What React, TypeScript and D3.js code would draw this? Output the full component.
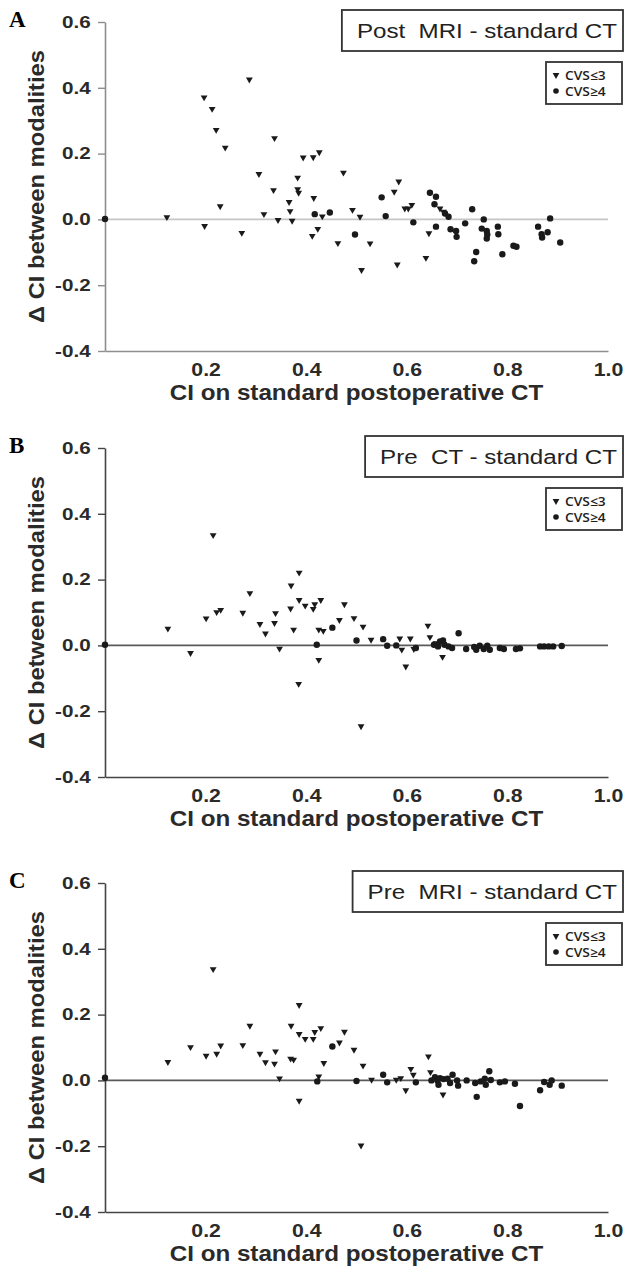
import React, { useEffect, useRef } from 'react'
import * as d3 from 'd3'

type Pt = [number, number]

// axis ticks and labels
const xTicks = [0.2, 0.4, 0.6, 0.8, 1.0]
const yTicks = [0.6, 0.4, 0.2, 0.0, -0.2, -0.4]
const legendLabels = ['CVS\u22643', 'CVS\u22654']
const panelLetters = ['A', 'B', 'C']
const panelTitles = ['Post  MRI - standard CT', 'Pre  CT - standard CT', 'Pre  MRI - standard CT']
const xTitle = 'CI on standard postoperative CT'
const yTitle = '\u0394 CI between modalities'

// A: post MRI - standard CT
const postMriLow: Pt[] = [
  [0.123, 0.007], [0.197, 0.371], [0.213, 0.336], [0.221, 0.272], [0.239, 0.218],
  [0.229, 0.040], [0.198, -0.020], [0.287, 0.425], [0.272, -0.041], [0.306, 0.138],
  [0.316, 0.016], [0.337, 0.247], [0.335, 0.089], [0.344, -0.002], [0.366, 0.053],
  [0.368, 0.025], [0.372, -0.004], [0.383, 0.127], [0.383, 0.092], [0.385, 0.081],
  [0.394, 0.188], [0.414, 0.189], [0.426, 0.204], [0.415, 0.065], [0.412, -0.050],
  [0.423, -0.029], [0.432, 0.009], [0.463, -0.072], [0.474, 0.142], [0.492, 0.029],
  [0.507, 0.008], [0.510, -0.154], [0.527, -0.073], [0.575, 0.084], [0.584, 0.115],
  [0.596, 0.033], [0.603, 0.033], [0.610, 0.044], [0.581, -0.137], [0.638, -0.117],
  [0.644, -0.042], [0.666, 0.033], [0.673, 0.023],
]
const postMriHigh: Pt[] = [
  [0.0, 0.001], [0.417, 0.016], [0.447, 0.021], [0.497, -0.046], [0.550, 0.067],
  [0.558, 0.010], [0.613, -0.009], [0.646, 0.081], [0.658, 0.069], [0.655, 0.046],
  [0.658, -0.022], [0.676, 0.018], [0.683, 0.008], [0.687, -0.030], [0.698, -0.035],
  [0.699, -0.053], [0.716, -0.012], [0.730, 0.031], [0.753, 0.000], [0.749, -0.028],
  [0.759, -0.035], [0.760, -0.046], [0.759, -0.058], [0.738, -0.099], [0.734, -0.127],
  [0.781, -0.022], [0.782, -0.045], [0.790, -0.106], [0.812, -0.080], [0.818, -0.083],
  [0.861, -0.022], [0.868, -0.045], [0.869, -0.055], [0.880, -0.039], [0.885, 0.003],
  [0.905, -0.070],
]

// B: pre CT - standard CT
const preCtLow: Pt[] = [
  [0.125, 0.051], [0.170, -0.023], [0.201, 0.082], [0.215, 0.335], [0.222, 0.101],
  [0.230, 0.108], [0.274, 0.099], [0.288, 0.159], [0.308, 0.065], [0.319, 0.036],
  [0.339, 0.098], [0.337, 0.068], [0.347, -0.010], [0.370, 0.182], [0.369, 0.112],
  [0.375, 0.048], [0.386, 0.221], [0.386, 0.138], [0.398, 0.121], [0.414, 0.111],
  [0.417, 0.125], [0.429, 0.138], [0.425, 0.048], [0.434, 0.044], [0.425, -0.044],
  [0.385, -0.117], [0.466, 0.077], [0.476, 0.125], [0.495, 0.083], [0.513, 0.057],
  [0.509, -0.246], [0.529, 0.017], [0.586, 0.021], [0.590, -0.013], [0.607, 0.021],
  [0.598, -0.064], [0.614, -0.011], [0.642, 0.060], [0.646, 0.025], [0.671, -0.035],
  [0.658, 0.007],
]
const preCtHigh: Pt[] = [
  [0.0, 0.002], [0.421, 0.002], [0.452, 0.054], [0.500, 0.015], [0.553, 0.019],
  [0.561, -0.001], [0.579, 0.000], [0.618, -0.008], [0.654, 0.002], [0.662, -0.003],
  [0.666, 0.012], [0.672, 0.015], [0.675, 0.002], [0.683, -0.003], [0.690, -0.008],
  [0.703, 0.037], [0.718, -0.011], [0.734, -0.005], [0.738, -0.013], [0.745, -0.001],
  [0.753, -0.011], [0.760, -0.001], [0.765, -0.013], [0.785, -0.008], [0.793, -0.011],
  [0.817, -0.011], [0.825, -0.009], [0.865, -0.003], [0.873, -0.003], [0.882, -0.003],
  [0.891, -0.003], [0.908, -0.002],
]

// C: pre MRI - standard CT
const preMriLow: Pt[] = [
  [0.125, 0.056], [0.170, 0.101], [0.201, 0.075], [0.215, 0.338], [0.222, 0.081],
  [0.230, 0.106], [0.274, 0.107], [0.288, 0.166], [0.308, 0.081], [0.319, 0.055],
  [0.339, 0.088], [0.337, 0.051], [0.347, 0.006], [0.370, 0.166], [0.369, 0.066],
  [0.375, 0.063], [0.386, 0.229], [0.386, 0.141], [0.398, 0.126], [0.414, 0.126],
  [0.417, 0.147], [0.429, 0.159], [0.435, 0.053], [0.425, 0.012], [0.386, -0.062],
  [0.466, 0.115], [0.476, 0.148], [0.495, 0.093], [0.513, 0.045], [0.509, -0.198],
  [0.530, 0.002], [0.579, 0.002], [0.588, 0.007], [0.598, -0.030], [0.608, 0.035],
  [0.613, 0.017], [0.643, 0.073], [0.647, 0.025], [0.672, -0.043],
]
const preMriHigh: Pt[] = [
  [0.0, 0.008], [0.422, -0.003], [0.452, 0.103], [0.500, -0.002], [0.553, 0.017],
  [0.561, -0.006], [0.618, -0.006], [0.649, 0.000], [0.656, 0.010], [0.661, 0.000],
  [0.663, -0.013], [0.666, 0.007], [0.673, 0.004], [0.681, 0.005], [0.686, -0.008],
  [0.691, 0.017], [0.700, 0.000], [0.702, -0.016], [0.719, 0.000], [0.736, -0.008],
  [0.739, -0.050], [0.747, -0.003], [0.755, 0.005], [0.757, -0.013], [0.764, 0.028],
  [0.767, 0.001], [0.785, -0.006], [0.795, -0.003], [0.815, -0.010], [0.825, -0.078],
  [0.865, -0.030], [0.873, -0.005], [0.884, -0.013], [0.888, 0.000], [0.908, -0.016],
]

const lowSets = [postMriLow, preCtLow, preMriLow]
const highSets = [postMriHigh, preCtHigh, preMriHigh]

const W = 627
const H = 1268
const plotLeft = 105
const plotRight = 608
const panelTops = [22, 448, 883]
const plotH = 329
const axisColors = ['#8e8e8e', '#444', '#444']
const zeroColors = ['#c6c6c6', '#5a5a5a', '#5a5a5a']
const sans = '"Liberation Sans", Arial, sans-serif'

export default function App() {
  const ref = useRef<SVGSVGElement>(null)

  useEffect(() => {
    const svg = d3.select(ref.current)
    svg.selectAll('*').remove()

    const x = d3.scaleLinear().domain([0, 1]).range([plotLeft, plotRight])
    const tri = d3.symbol().type(d3.symbolTriangle).size(20)
    const fmt = (d: number) => d.toFixed(1)

    panelTops.forEach((top, i) => {
      const y = d3.scaleLinear().domain([-0.4, 0.6]).range([top + plotH, top])
      const g = svg.append('g')
      const axisCol = axisColors[i]

      // panel letter
      g.append('text')
        .attr('x', 9).attr('y', top + 5)
        .attr('font-family', '"Liberation Serif", "Times New Roman", serif')
        .attr('font-weight', 'bold').attr('font-size', 23)
        .text(panelLetters[i])

      // zero reference line
      g.append('line')
        .attr('x1', x(0)).attr('x2', x(1))
        .attr('y1', y(0)).attr('y2', y(0))
        .attr('stroke', zeroColors[i]).attr('stroke-width', 1.6)

      // y axis
      const yAxisG = g.append('g')
        .attr('transform', `translate(${plotLeft},0)`)
        .call(d3.axisLeft(y).tickValues(yTicks).tickFormat(fmt as any)
          .tickSize(7).tickSizeOuter(0).tickPadding(7))
      yAxisG.select('.domain').attr('stroke', axisCol).attr('stroke-width', 1.6)
      yAxisG.selectAll('.tick line').attr('stroke', axisCol).attr('stroke-width', 1.4)
      yAxisG.selectAll('.tick text')
        .attr('fill', '#2a2a2a')
        .attr('font-family', sans).attr('font-weight', 'bold').attr('font-size', 16.5)
        .attr('transform', 'scale(1.25,1)')
        .attr('x', -11.5)

      // x axis
      const xAxisG = g.append('g')
        .attr('transform', `translate(0,${y(-0.4)})`)
        .call(d3.axisBottom(x).tickValues(xTicks).tickFormat(fmt as any)
          .tickSize(0).tickSizeOuter(0).tickPadding(12))
      xAxisG.select('.domain').attr('stroke', axisCol).attr('stroke-width', 1.6)
      xAxisG.selectAll('.tick text')
        .attr('fill', '#2a2a2a')
        .attr('font-family', sans).attr('font-weight', 'bold').attr('font-size', 19)
        .attr('transform', 'scale(1.12,1)')

      // axis titles
      g.append('text')
        .attr('transform', `translate(${(plotLeft + plotRight) / 2},${top + plotH + 49}) scale(1.1,1)`)
        .attr('text-anchor', 'middle')
        .attr('fill', '#2a2a2a')
        .attr('font-family', sans).attr('font-weight', 'bold').attr('font-size', 22)
        .text(xTitle)

      g.append('text')
        .attr('transform', `translate(44,${top + plotH / 2}) rotate(-90) scale(1.08,1)`)
        .attr('text-anchor', 'middle')
        .attr('fill', '#2a2a2a')
        .attr('font-family', sans).attr('font-weight', 'bold').attr('font-size', 22)
        .text(yTitle)

      // title box
      const titleRight = 617
      const boxTop = top - 12
      const tt = g.append('text')
        .attr('transform', `translate(${titleRight},${boxTop + 28}) scale(1.15,1)`)
        .attr('text-anchor', 'end')
        .attr('fill', '#222')
        .attr('font-family', sans).attr('font-size', 21)
        .style('white-space', 'pre')
        .text(panelTitles[i])
      const tw = (tt.node() as SVGTextElement).getComputedTextLength() * 1.15
      g.insert('rect', 'text')
        .attr('x', titleRight - tw - 15).attr('y', boxTop)
        .attr('width', tw + 21).attr('height', 41)
        .attr('fill', 'none').attr('stroke', '#333').attr('stroke-width', 1.8)

      // legend
      const lgTop = top + 40
      g.append('rect')
        .attr('x', 546).attr('y', lgTop).attr('width', 76).attr('height', 42)
        .attr('fill', 'none').attr('stroke', '#333').attr('stroke-width', 1.8)
      g.append('path')
        .attr('d', tri()!)
        .attr('transform', `translate(556,${lgTop + 13}) rotate(180)`)
        .attr('fill', '#1a1a1a')
      g.append('circle')
        .attr('cx', 556).attr('cy', lgTop + 29).attr('r', 2.8)
        .attr('fill', '#1a1a1a')
      legendLabels.forEach((lab, k) => {
        g.append('text')
          .attr('transform', `translate(565,${lgTop + 13 + k * 16}) scale(1.08,1)`)
          .attr('dy', '0.36em')
          .attr('fill', '#1e1e1e')
          .attr('font-family', '"Open Sans", Lato, sans-serif')
          .attr('font-weight', 600).attr('font-size', 12.8)
          .text(lab)
      })

      // points
      g.append('g').selectAll('path')
        .data(lowSets[i])
        .join('path')
        .attr('d', tri()!)
        .attr('transform', d => `translate(${x(d[0])},${y(d[1])}) rotate(180)`)
        .attr('fill', '#1a1a1a')

      g.append('g').selectAll('circle')
        .data(highSets[i])
        .join('circle')
        .attr('cx', d => x(d[0]))
        .attr('cy', d => y(d[1]))
        .attr('r', 3.2)
        .attr('fill', '#1a1a1a')
    })
  }, [])

  return (
    <svg
      ref={ref}
      width={W}
      height={H}
      style={{ position: 'absolute', left: 0, top: 0, background: '#fff' }}
    />
  )
}
